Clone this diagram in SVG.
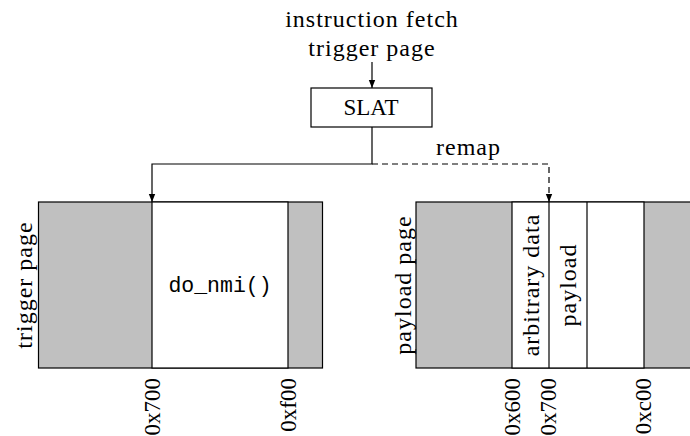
<svg xmlns="http://www.w3.org/2000/svg" width="690" height="436" viewBox="0 0 690 436">
<style>
.t{font-family:"Liberation Serif",serif;font-size:24px;letter-spacing:1px;fill:#000}
.n{font-family:"Liberation Serif",serif;font-size:23px;fill:#000}
.m{font-family:"Liberation Mono",monospace;font-size:21.5px;fill:#000}
.b{fill:#fff;stroke:#000;stroke-width:1.2}
.g{fill:#c0c0c0;stroke:#000;stroke-width:1.2}
.c{fill:none;stroke:#000;stroke-width:1.2}
</style>
<defs>
<marker id="ah" viewBox="0 0 10 10" refX="10" refY="5" markerWidth="8" markerHeight="8" markerUnits="userSpaceOnUse" orient="auto">
<path d="M0,1 L10,5 L0,9 Z" fill="#000"/>
</marker>
</defs>
<g id="input-label">
<text class="t" x="372" y="27" text-anchor="middle">instruction fetch</text>
<text class="t" x="372" y="56" text-anchor="middle">trigger page</text>
</g>
<g id="slat">
<rect class="b" x="311" y="88" width="121" height="39"/>
<text class="n" x="371" y="115" text-anchor="middle">SLAT</text>
</g>
<g id="trigger-page">
<rect class="g" x="38.5" y="202" width="284" height="166"/>
<rect class="b" x="152" y="202" width="136" height="166"/>
<text class="t" transform="translate(32,285) rotate(-90)" text-anchor="middle">trigger page</text>
<text class="m" x="220" y="292" text-anchor="middle">do_nmi()</text>
<text class="n" transform="translate(160,378) rotate(-90)" text-anchor="end">0x700</text>
<text class="n" transform="translate(296,378) rotate(-90)" text-anchor="end">0xf00</text>
</g>
<g id="payload-page">
<rect class="g" x="416" y="202" width="280" height="166"/>
<rect class="b" x="512" y="202" width="132" height="166"/>
<line class="c" x1="549" y1="202" x2="549" y2="368"/>
<line class="c" x1="587" y1="202" x2="587" y2="368"/>
<text class="t" transform="translate(411,285) rotate(-90)" text-anchor="middle">payload page</text>
<text class="t" transform="translate(539,285) rotate(-90)" text-anchor="middle">arbitrary data</text>
<text class="t" transform="translate(576,285) rotate(-90)" text-anchor="middle">payload</text>
<text class="n" transform="translate(520,378) rotate(-90)" text-anchor="end">0x600</text>
<text class="n" transform="translate(556,378) rotate(-90)" text-anchor="end">0x700</text>
<text class="n" transform="translate(651,378) rotate(-90)" text-anchor="end">0xc00</text>
</g>
<g id="connectors">
<line class="c" x1="372" y1="62" x2="372" y2="88" marker-end="url(#ah)"/>
<polyline class="c" points="372,127 372,164 152,164 152,202" marker-end="url(#ah)"/>
<polyline class="c" points="372,164 549,164 549,202" stroke-dasharray="6,4" marker-end="url(#ah)"/>
<text class="t" x="436" y="155">remap</text>
</g>
</svg>
